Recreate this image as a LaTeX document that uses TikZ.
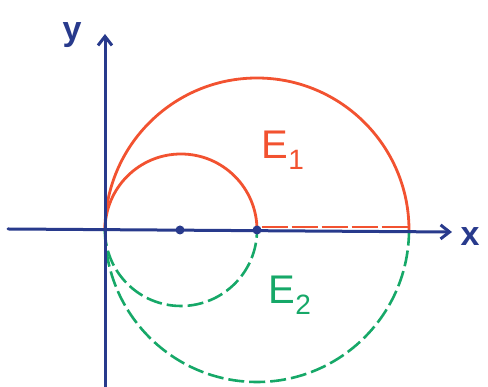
\documentclass[tikz,border=0pt]{standalone}
\usepackage{fontspec}
\setmainfont{Liberation Sans}
\usetikzlibrary{arrows.meta}
\definecolor{axisblue}{RGB}{40,58,140}
\definecolor{penred}{RGB}{242,82,48}
\definecolor{pengreen}{RGB}{22,168,104}
\tikzset{
  axis/.style={axisblue, line width=3pt, line cap=round, -{Straight Barb[length=9pt,width=14pt]}},
  redcurve/.style={penred, line width=2.8pt, line cap=round},
  greencurve/.style={pengreen, line width=2.6pt, dash pattern=on 16pt off 5pt},
  dot/.style={circle, fill=axisblue, inner sep=0pt, minimum size=9pt},
  setlabel/.style={font=\fontsize{40}{40}\selectfont},
  axlabel/.style={axisblue, font=\fontsize{34}{34}\selectfont\bfseries},
}
\begin{document}
\begin{tikzpicture}[x=1pt,y=1pt]
\useasboundingbox (0,0) rectangle (488,387);
\coordinate (O) at (105,157);
\coordinate (A) at (409,157);
\coordinate (xs) at (8,158);
\coordinate (xe) at (452,155);
\coordinate (ys) at (105,0);
\coordinate (ye) at (105,353);
% curves
\draw[redcurve] (O) arc[start angle=180,end angle=0,radius=152];
\draw[redcurve] (O) arc[start angle=180,end angle=0,radius=76];
\draw[greencurve] (O) arc[start angle=180,end angle=360,radius=152];
\draw[greencurve] (O) arc[start angle=180,end angle=360,radius=76];
% axes
\draw[axis] (xs) -- (xe);
\draw[axis] (ys) -- (ye);
\node[dot] (p1) at (180,157) {};
\node[dot] (p2) at (257,157) {};
\draw[penred, line width=2.6pt, dash pattern=on 26pt off 4pt] ([yshift=3pt]p2.east) -- ([yshift=3pt]A);
\node[axlabel] (ylab) at (72,352) {y};
\node[axlabel] (xlab) at (470,150) {x};
\node[setlabel, penred] (e1) at (283,237) {E$_{\mathrm{1}}$};
\node[setlabel, pengreen] (e2) at (290,92) {E$_{\mathrm{2}}$};
\end{tikzpicture}
\end{document}
